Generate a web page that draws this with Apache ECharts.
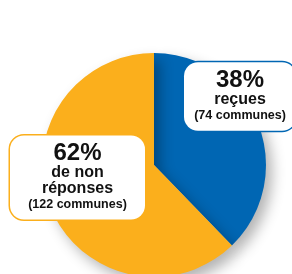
<!DOCTYPE html>
<html>
<head>
<meta charset="utf-8">
<script src="https://cdn.jsdelivr.net/npm/echarts@6/dist/echarts.min.js"></script>
<style>
  html, body { margin: 0; padding: 0; background: #fff; }
  #chart { width: 292px; height: 274px; }
</style>
</head>
<body>
<div id="chart"></div>
<script>
// réponses au questionnaire
const categories = ['reçues', 'de non réponses']
const communes = [74, 122]
const percents = ['38%', '62%']
const labelLines = [['reçues'], ['de non', 'réponses']]
const colors = ['#0066b3', '#fbaf1c']

const chart = echarts.init(document.getElementById('chart'))

const font = 'Liberation Sans, Arial, Helvetica, sans-serif'

// box centres / sizes for the two labels
const boxes = [
  { x: 240, y: 96.5, width: 104, padding: [7, 4, 7, 4] },
  { x: 77.5, y: 177.5, width: 127, padding: [6.5, 4, 6.5, 4] }
]

const data = categories.map((name, i) => ({
  name: name,
  value: communes[i],
  itemStyle: { color: colors[i] },
  label: {
    formatter: [
      '{p|' + percents[i] + '}',
      ...labelLines[i].map(t => '{t|' + t + '}'),
      '{c|(' + communes[i] + ' communes)}'
    ].join('\n'),
    borderColor: colors[i],
    width: boxes[i].width,
    padding: boxes[i].padding
  }
}))

chart.setOption({
  animation: false,
  series: [
    {
      type: 'pie',
      center: [154, 165],
      radius: [0, 112],
      startAngle: 90,
      clockwise: true,
      data: data,
      itemStyle: {
        shadowBlur: 14,
        shadowColor: 'rgba(0,0,0,0.3)',
        shadowOffsetX: 6,
        shadowOffsetY: 7
      },
      labelLine: { show: false },
      label: {
        show: true,
        position: 'inside',
        backgroundColor: '#fff',
        borderWidth: 1.5,
        borderRadius: 14,
        align: 'center',
        fontFamily: font,
        fontWeight: 'bold',
        color: '#111',
        rich: {
          p: { fontSize: 24, fontWeight: 'bold', lineHeight: 22, fontFamily: font, color: '#111' },
          t: { fontSize: 16, fontWeight: 'bold', lineHeight: 16.5, fontFamily: font, color: '#111' },
          c: { fontSize: 12.5, fontWeight: 'bold', lineHeight: 16, fontFamily: font, color: '#111' }
        }
      },
      labelLayout: function (params) {
        const b = boxes[params.dataIndex]
        return { x: b.x, y: b.y, align: 'center', verticalAlign: 'middle' }
      },
      emphasis: { disabled: true }
    }
  ]
})
</script>
</body>
</html>
